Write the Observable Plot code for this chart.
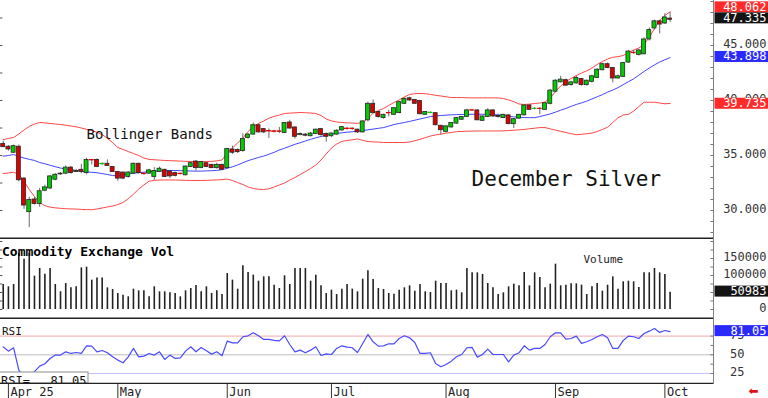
<!DOCTYPE html>
<html>
<head>
<meta charset="utf-8">
<script src="https://cdn.jsdelivr.net/npm/d3@7"></script>
<script src="https://cdn.jsdelivr.net/npm/@observablehq/plot@0.6"></script>
<style>
  html, body { margin: 0; padding: 0; background: #fff; }
  #chart { width: 768px; height: 398px; overflow: hidden; background: #fff; }
  #chart svg { display: block; overflow: hidden; }
</style>
</head>
<body>
<div id="chart"></div>
<script>
// ---- Daily bars, Mar 31 2025 .. Oct 2 2025 (December Silver) ----
const open = [36.06,35.8,35.25,35.8,32.9,29.85,31.0,30.6,31.8,32.0,
32.8,33.28,33.35,33.9,33.5,33.7,33.4,34.6,34.6,34.2,
34.25,33.95,33.5,33.45,33.05,33.35,34.25,33.35,33.35,33.05,
33.5,33.7,33.55,33.4,33.35,33.2,33.95,34.45,33.85,34.3,
34.15,33.85,34.15,33.85,35.55,35.5,35.4,36.6,36.9,37.75,
37.4,37.22,37.2,37.2,37.05,38.0,37.55,36.85,36.9,36.75,
36.95,37.4,36.95,36.75,36.9,37.28,37.45,37.45,37.35,37.1,
38.2,39.7,38.95,38.4,38.87,38.7,38.85,39.7,40.2,40.05,
39.95,38.7,38.85,38.85,37.7,37.15,37.55,37.9,38.25,38.5,
39.12,39.1,38.15,38.5,39.1,38.6,38.4,38.65,37.85,38.35,
38.65,39.55,39.22,39.26,39.15,39.7,40.8,41.65,41.85,41.4,
41.55,41.95,41.4,41.7,42.05,42.75,43.3,42.95,42.0,42.15,
43.45,44.35,44.15,44.2,45.55,46.55,47.2,47.0,47.45];
const high = [36.3,35.9,35.95,35.95,33.0,31.2,31.2,32.0,32.3,33.2,
33.35,33.45,34.05,34.0,33.75,34.2,34.75,34.65,34.7,34.3,
34.6,34.0,33.55,33.5,33.55,34.3,34.3,33.45,33.75,33.9,
33.95,33.75,33.6,33.5,33.4,34.05,34.45,34.55,34.45,34.35,
34.2,34.3,34.2,35.65,35.85,35.6,36.97,37.0,37.95,37.85,
37.45,37.42,37.3,37.55,38.0,38.2,37.6,37.05,37.0,37.1,
37.4,37.45,37.05,37.05,37.35,37.65,37.55,37.5,37.4,38.15,
39.85,40.05,39.0,38.75,39.1,39.35,39.9,40.25,40.3,40.1,
40.0,39.0,38.95,38.9,37.75,37.7,38.0,38.45,38.55,39.2,
39.15,39.15,38.6,39.25,39.15,38.75,38.75,38.7,38.35,38.75,
39.6,39.6,39.35,39.35,39.8,41.0,41.9,42.2,41.95,41.75,
42.25,42.0,41.85,42.3,42.9,43.4,43.4,43.0,42.3,43.45,
44.55,44.55,44.65,45.7,46.6,47.3,47.3,47.9,48.0];
const low = [35.7,35.4,35.2,32.6,30.1,28.45,30.5,30.3,31.7,31.9,
32.7,33.2,33.25,33.3,33.45,33.35,33.25,34.15,33.9,34.1,
34.0,33.45,32.65,32.8,32.95,33.3,33.3,33.2,33.3,32.75,
33.45,33.0,32.9,33.05,33.25,33.15,33.9,33.6,33.8,33.9,
33.8,33.75,33.65,33.8,35.1,35.2,35.3,36.5,36.85,37.05,
37.0,36.55,37.05,37.0,37.0,37.4,36.5,36.8,36.7,36.7,
36.9,36.75,36.2,36.65,36.85,37.2,37.3,37.3,37.0,37.05,
38.05,38.8,38.4,38.3,38.5,38.65,38.8,39.65,39.95,39.65,
38.7,38.65,38.8,37.7,36.85,37.05,37.5,37.85,38.2,38.45,
39.0,38.15,38.1,38.45,38.45,38.4,38.35,37.8,37.45,38.3,
38.6,39.1,39.15,38.7,39.1,39.6,40.7,41.6,41.3,41.3,
41.5,41.3,41.3,41.6,42.0,42.7,42.9,41.6,41.95,42.1,
43.4,44.2,44.05,44.15,45.4,46.4,46.05,46.9,47.1];
const close = [35.76,35.55,35.85,32.75,30.45,30.95,30.6,31.75,32.1,33.1,
33.25,33.35,33.9,33.4,33.6,33.5,34.6,34.55,33.95,34.25,
34.05,33.5,32.9,32.9,33.45,34.25,33.4,33.3,33.65,33.6,
33.8,33.05,33.1,33.15,33.3,34.0,34.3,33.85,34.4,33.95,
33.85,34.15,33.7,35.6,35.25,35.3,36.5,36.9,37.75,37.1,
37.1,37.18,37.15,37.15,37.95,37.45,36.7,36.95,36.8,37.0,
37.35,36.85,36.7,37.0,37.25,37.58,37.4,37.4,37.1,38.1,
39.7,38.85,38.5,38.7,38.83,39.3,39.85,40.15,40.0,39.7,
38.75,38.95,38.9,37.75,37.3,37.65,37.95,38.4,38.5,39.1,
39.08,38.2,38.55,39.1,38.55,38.5,38.7,37.85,38.3,38.7,
39.55,39.15,39.26,39.22,39.75,40.9,41.8,41.9,41.35,41.65,
42.05,41.4,41.8,42.2,42.8,43.3,42.95,42.0,42.2,43.4,
44.45,44.3,44.55,45.55,46.4,47.2,46.9,47.55,47.335];

// ---- Bollinger Bands ----
const upperBand = [36.45,36.55,36.64,36.95,37.32,37.64,37.86,38.00,37.97,37.91,
37.86,37.82,37.75,37.68,37.61,37.50,37.38,37.27,37.11,36.91,
36.55,36.18,35.73,35.55,35.36,35.18,35.00,34.77,34.64,34.61,
34.58,34.55,34.53,34.51,34.49,34.47,34.45,34.45,34.45,34.45,
34.47,34.51,34.59,35.23,35.68,36.14,36.59,37.18,37.64,37.91,
38.14,38.39,38.55,38.68,38.82,38.85,38.88,38.91,38.89,38.86,
38.82,38.64,38.32,38.14,38.05,38.00,37.97,37.95,37.92,38.00,
38.36,38.86,39.09,39.27,39.55,39.82,40.05,40.32,40.55,40.62,
40.64,40.62,40.55,40.47,40.41,40.34,40.27,40.27,40.27,40.25,
40.24,40.24,40.24,40.24,40.24,40.24,40.18,40.05,39.89,39.68,
39.64,39.67,39.73,39.77,39.86,40.23,40.82,41.32,41.73,42.00,
42.27,42.50,42.70,42.95,43.27,43.55,43.77,43.93,43.98,44.09,
44.36,44.59,44.77,45.09,45.73,46.55,47.27,47.73,48.062];
const middleBand = [34.94,35.00,35.09,34.91,34.77,34.65,34.55,34.36,34.25,34.11,
33.98,33.86,33.77,33.71,33.64,33.57,33.52,33.47,33.43,33.36,
33.27,33.18,33.14,33.23,33.32,33.39,33.44,33.48,33.54,33.56,
33.59,33.62,33.64,33.64,33.62,33.60,33.59,33.58,33.58,33.60,
33.62,33.64,33.71,33.84,33.97,34.14,34.34,34.53,34.68,34.82,
34.95,35.11,35.29,35.50,35.66,35.84,36.02,36.16,36.32,36.47,
36.61,36.73,36.84,36.95,37.02,37.06,37.12,37.16,37.22,37.26,
37.34,37.40,37.47,37.54,37.67,37.81,37.91,38.00,38.10,38.21,
38.32,38.43,38.54,38.59,38.64,38.67,38.70,38.71,38.73,38.74,
38.75,38.75,38.75,38.73,38.72,38.70,38.64,38.56,38.51,38.47,
38.45,38.44,38.44,38.54,38.66,38.78,38.94,39.12,39.28,39.47,
39.64,39.78,39.94,40.14,40.34,40.53,40.76,40.95,41.17,41.44,
41.71,41.97,42.30,42.64,42.95,43.24,43.50,43.70,43.898];
const lowerBand = [33.36,33.41,33.48,33.27,32.64,31.91,31.27,30.73,30.43,30.31,
30.24,30.20,30.16,30.14,30.13,30.10,30.08,30.07,30.14,30.23,
30.32,30.41,30.54,30.73,31.07,31.48,31.95,32.32,32.66,32.74,
32.77,32.78,32.78,32.77,32.76,32.74,32.73,32.73,32.73,32.74,
32.76,32.78,32.81,32.85,32.73,32.54,32.36,32.14,32.00,31.93,
31.91,31.97,32.14,32.32,32.50,32.77,33.00,33.27,33.54,33.82,
34.14,34.59,35.14,35.68,36.04,36.29,36.36,36.43,36.50,36.38,
36.27,36.24,36.22,36.18,36.18,36.18,36.18,36.18,36.23,36.34,
36.47,36.62,36.77,36.87,36.95,37.03,37.09,37.17,37.19,37.21,
37.22,37.23,37.23,37.23,37.23,37.23,37.24,37.27,37.30,37.33,
37.37,37.43,37.48,37.54,37.54,37.42,37.31,37.20,37.09,36.98,
36.89,36.93,36.98,37.04,37.18,37.36,37.57,38.00,38.43,38.68,
38.74,39.04,39.45,39.84,39.84,39.84,39.77,39.70,39.735];

// ---- Volume ----
const volume = [73500,66700,73500,164700,148000,164700,98000,120600,104000,120600,
73500,52000,76500,63700,66700,122500,124500,86300,93000,93000,
63700,58800,47000,42000,37300,59800,54900,54900,37300,66700,
52000,52000,49000,47000,37300,54900,61800,70600,52000,66700,
47000,54900,44000,105900,86300,59800,128400,108800,101000,83300,
96000,96000,71600,61800,99000,73500,120600,120600,120600,83300,
101000,69600,47000,56900,44000,59800,73500,59800,52000,89200,
113700,88200,61800,58800,47000,45000,56900,63700,69600,53900,
73500,52000,50000,83300,76500,76500,54900,56900,49000,120600,
107800,107800,102900,76500,63700,44000,49000,66700,74500,69600,
108800,69600,107800,94000,63700,74500,133300,69600,71600,75500,
75500,71600,44000,66700,76500,53900,71600,96000,59800,81400,
83300,81400,64700,107800,107800,120600,107800,102900,50983];

// ---- RSI ----
const rsi = [60.7,54.9,59.4,29.5,20.0,22.0,27.5,34.8,38.0,45.1,
49.6,49.6,54.0,51.8,53.1,51.8,62.0,61.6,54.0,55.8,
52.7,47.3,42.9,39.3,47.3,58.5,47.3,48.2,51.8,49.6,
54.0,43.8,49.6,45.1,46.0,54.9,60.7,54.0,59.8,55.3,
50.9,54.0,48.7,68.3,66.0,66.0,74.1,75.4,79.4,75.4,
70.5,70.5,69.2,68.7,75.4,63.8,54.0,56.2,52.7,56.2,
60.7,49.1,51.3,50.4,58.5,62.0,60.2,59.4,53.1,65.2,
77.2,67.4,61.6,62.0,64.7,64.7,71.8,75.4,72.7,66.5,
51.8,51.8,52.7,38.4,34.0,37.1,41.5,47.3,50.4,59.4,
59.8,46.9,50.4,57.6,50.4,50.4,50.4,40.6,49.6,52.7,
62.0,56.2,58.5,58.5,63.8,74.1,79.4,79.4,70.9,71.8,
75.0,65.2,67.4,70.5,74.1,77.2,72.7,58.5,58.5,69.2,
75.0,74.1,71.8,78.5,81.6,85.2,79.9,82.5,81.05];
const rsiLevels = [75, 50, 25];

// ---- axis labels ----
const monthLabels = ["Apr 25", "May", "Jun", "Jul", "Aug", "Sep", "Oct"];
const monthStart = [1, 22, 43, 63, 85, 106, 127];
const priceAxis = [45, 40, 35, 30];
const volumeAxis = [150000, 100000, 50000, 0];
const rsiAxis = [75, 50, 25];

const MONO = "DejaVu Sans Mono, monospace";
const N = close.length;
const bars = d3.range(N).map(i => ({
  i, o: open[i], h: high[i], l: low[i], c: close[i],
  up: upperBand[i], mid: middleBand[i], lo: lowerBand[i], v: volume[i], r: rsi[i]
}));

const xDomain = [-0.518, 136.33];
const priceDomain = [27.364, 49.091];
const volDomain = [-29412, 205882];
const rsiDomain = [10.29, 97.19];
const W = 768, MR = 55;

const TAG_RED = "#ff2a2a", TAG_BLUE = "#2a2aff", TAG_BLACK = "#141414";
const TAG_COLORS = [TAG_RED, TAG_BLUE, TAG_BLACK];

const priceTags = [
  {v: upperBand[N - 1], color: TAG_RED, dy: -4.8},
  {v: close[N - 1], color: TAG_BLACK, dy: -1.8},
  {v: middleBand[N - 1], color: TAG_BLUE, dy: -1},
  {v: lowerBand[N - 1], color: TAG_RED, dy: 0}
];

function tagMarks(tags, fmt) {
  return tags.map(t => Plot.text([t.v], {
    y: d => d, text: fmt, frameAnchor: "right", textAnchor: "end", dx: 53, dy: t.dy,
    fill: t.color, fontFamily: MONO, fontSize: 12
  }));
}
function range(a, b, s) { return d3.range(a, b + s / 2, s); }

const base = {width: W, marginLeft: 0, marginRight: MR, marginTop: 0, marginBottom: 0};

const pricePlot = Plot.plot({
  ...base, height: 239,
  x: {domain: xDomain, axis: null},
  y: {domain: priceDomain, axis: null},
  marks: [
    Plot.line(bars, {x: "i", y: "up", stroke: "#ff4646", strokeWidth: 1}),
    Plot.line(bars, {x: "i", y: "lo", stroke: "#ff4646", strokeWidth: 1}),
    Plot.line(bars, {x: "i", y: "mid", stroke: "#4444ff", strokeWidth: 1}),
    Plot.ruleX(bars, {x: "i", y1: "l", y2: "h", stroke: "#6a6a6a", strokeWidth: 1}),
    Plot.rect(bars, {
      x1: d => d.i - 0.38, x2: d => d.i + 0.38, y1: "o", y2: "c",
      fill: d => d.c >= d.o ? "#00cc00" : "#dd0000",
      stroke: d => Math.abs(d.c - d.o) < 0.06 ? (d.c >= d.o ? "#00cc00" : "#dd0000") : "#262626",
      strokeWidth: 0.8
    }),
    Plot.text(["Bollinger Bands"], {frameAnchor: "top-left", dx: 86, dy: 128.5, textAnchor: "start",
      fontFamily: MONO, fontSize: 14, fill: "#111"}),
    Plot.text(["December Silver"], {frameAnchor: "top-left", dx: 471, dy: 171, textAnchor: "start",
      fontFamily: MONO, fontSize: 21, fill: "#111"}),
    Plot.ruleY(range(30, 47.5, 2.5), {x1: xDomain[0], x2: xDomain[0] + 0.45, stroke: "#555"}),
    Plot.ruleY(range(28, 49, 1), {x1: xDomain[1] - 0.5, x2: xDomain[1], stroke: "#777"}),
    Plot.ruleX([xDomain[1]], {stroke: "#808080"}),
    Plot.text(priceAxis, {y: d => d, text: d => d.toFixed(3), frameAnchor: "right", textAnchor: "end",
      dx: 53, dy: -1, fontFamily: MONO, fontSize: 12, fill: "#333"}),
    Plot.ruleY([priceDomain[0]], {x1: xDomain[0], x2: xDomain[1], dy: -1, stroke: "#222", strokeWidth: 2}),
    ...tagMarks(priceTags, d => d.toFixed(3))
  ]
});

const volPlot = Plot.plot({
  ...base, height: 80,
  x: {domain: xDomain, axis: null},
  y: {domain: volDomain, axis: null},
  marks: [
    Plot.ruleX(bars, {x: "i", y1: 0, y2: "v", stroke: "#222", strokeWidth: 1.6}),
    Plot.text(["Commodity Exchange Vol"], {frameAnchor: "top-left", dx: 1.5, dy: 7.5, textAnchor: "start",
      fontFamily: MONO, fontSize: 13, fontWeight: "bold", fill: "#000"}),
    Plot.text(["Volume"], {frameAnchor: "top-left", dx: 583, dy: 15.5, textAnchor: "start",
      fontFamily: MONO, fontSize: 11, fill: "#222"}),
    Plot.ruleY(range(0, 200000, 25000), {x1: xDomain[0], x2: xDomain[0] + 0.45, stroke: "#555"}),
    Plot.ruleY(range(0, 200000, 25000), {x1: xDomain[1] - 0.5, x2: xDomain[1], stroke: "#777"}),
    Plot.ruleX([xDomain[1]], {stroke: "#808080"}),
    Plot.text(volumeAxis, {y: d => d, text: d => String(d), frameAnchor: "right", textAnchor: "end",
      dx: 53, dy: -1, fontFamily: MONO, fontSize: 12, fill: "#333"}),
    Plot.ruleY([volDomain[0]], {x1: xDomain[0], x2: xDomain[1], dy: -1, stroke: "#222", strokeWidth: 2}),
    ...tagMarks([{v: volume[N - 1], color: TAG_BLACK, dy: -0.9}], d => String(d))
  ]
});

const rsiPlot = Plot.plot({
  ...base, height: 65,
  x: {domain: xDomain, axis: null},
  y: {domain: rsiDomain, axis: null},
  marks: [
    Plot.ruleY([rsiLevels[0]], {stroke: "#f3a9a9"}),
    Plot.ruleY([rsiLevels[1]], {stroke: "#bcbcbc"}),
    Plot.ruleY([rsiLevels[2]], {stroke: "#c2c2ff"}),
    Plot.line(bars, {x: "i", y: "r", stroke: "#4a4aff", strokeWidth: 1.2}),
    Plot.text(["RSI"], {frameAnchor: "top-left", dx: 1.5, dy: 7.5, textAnchor: "start",
      fontFamily: MONO, fontSize: 11, fill: "#111"}),
    // legend box behind the "RSI= value" readout (a frame inset to the lower-left corner)
    Plot.frame({insetTop: 52.5, insetBottom: 1.5, insetLeft: -1, insetRight: 625.5,
      fill: "#ffffff", stroke: "#8c8c8c", strokeWidth: 1}),
    Plot.text(["RSI="], {frameAnchor: "top-left", dx: 0.5, dy: 57, textAnchor: "start",
      fontFamily: MONO, fontSize: 12, fill: "#101010"}),
    Plot.text([rsi[N - 1].toFixed(2)], {frameAnchor: "top-left", dx: 86, dy: 57, textAnchor: "end",
      fontFamily: MONO, fontSize: 12, fill: "#101010"}),
    Plot.ruleY(range(25, 75, 12.5), {x1: xDomain[1] - 0.5, x2: xDomain[1], stroke: "#777"}),
    Plot.ruleX([xDomain[1]], {stroke: "#808080"}),
    Plot.text(rsiAxis, {y: d => d, text: d => String(d), frameAnchor: "right", textAnchor: "end",
      dx: 31, dy: -1, fontFamily: MONO, fontSize: 12, fill: "#333"}),
    Plot.ruleY([rsiDomain[0]], {x1: xDomain[0], x2: xDomain[1], dy: -1, stroke: "#222", strokeWidth: 1.5}),
    ...tagMarks([{v: rsi[N - 1], color: TAG_BLUE, dy: -0.8}], d => d.toFixed(2))
  ]
});

const axisPlot = Plot.plot({
  ...base, height: 14,
  x: {domain: xDomain, axis: null},
  marks: [
    Plot.ruleX(monthStart, {x: d => d, stroke: "#333"}),
    Plot.text(monthStart, {x: d => d, text: (d, i) => monthLabels[i], textAnchor: "start", dx: 2, dy: 0.5,
      fontFamily: MONO, fontSize: 12, fill: "#222"}),
    Plot.text(["\u2B05"], {frameAnchor: "right", dx: 45, dy: 0, fill: "#e01010", fontSize: 12,
      fontFamily: "DejaVu Sans, sans-serif"})
  ]
});

const host = document.getElementById("chart");
[pricePlot, volPlot, rsiPlot, axisPlot].forEach(s => host.appendChild(s));

const NS = "http://www.w3.org/2000/svg";
function inkOf(t) {
  let el = t;
  while (el && el.getAttribute) {
    const f = el.getAttribute("fill");
    if (f) return f;
    el = el.parentNode;
  }
  return null;
}
// colored value tags on the right-hand price scale
function boxify(svg) {
  const texts = Array.from(svg.querySelectorAll("text"));
  texts.forEach(t => {
    const fill = inkOf(t);
    if (!TAG_COLORS.includes(fill)) return;
    const bb = t.getBBox();
    const right = bb.x + bb.width + 2;
    const r = document.createElementNS(NS, "rect");
    r.setAttribute("x", right - 54);
    r.setAttribute("width", 54);
    r.setAttribute("y", bb.y + 1.5);
    r.setAttribute("height", Math.max(1, bb.height - 3));
    r.setAttribute("fill", fill);
    r.setAttribute("stroke", "none");
    const tr = t.getAttribute("transform");
    if (tr) r.setAttribute("transform", tr);
    t.parentNode.insertBefore(r, t);
    t.setAttribute("fill", "#ffffff");
  });
}
[pricePlot, volPlot, rsiPlot].forEach(boxify);
</script>
</body>
</html>
